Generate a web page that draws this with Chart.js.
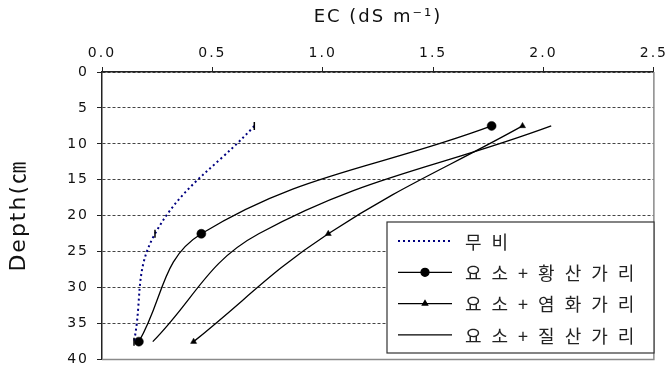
<!DOCTYPE html>
<html>
<head>
<meta charset="utf-8">
<script src="https://cdn.jsdelivr.net/npm/chart.js@4"></script>
<style>
  html, body { margin: 0; padding: 0; background: #fff; }
  #wrap { width: 670px; height: 376px; }
</style>
</head>
<body>
<div id="wrap"><canvas id="ec-chart"></canvas></div>
<script>
// ── Data ────────────────────────────────────────────────────────────
const depths = [7.5, 22.5, 37.5];
const xTicks = [0.0, 0.5, 1.0, 1.5, 2.0, 2.5];
const yTicks = [0, 5, 10, 15, 20, 25, 30, 35, 40];

const labels = ['무비', '요소+황산가리', '요소+염화가리', '요소+질산가리'];
const controlEC  = [0.69, 0.24, 0.145];
const sulfateEC  = [1.765, 0.45, 0.167];
const chlorideEC = [1.905, 1.025, 0.415];
const nitrateEC  = [2.035, 0.71, 0.23];

const toPoints = vals => depths.map((d, i) => ({ x: vals[i], y: d }));

// legend drawn inside the plot, like the original
const insideLegend = {
    id: 'insideLegend',
    beforeDraw(chart) {
        chart.ctx.letterSpacing = '2px';
    },
    afterDraw(chart, args, opts) {
        const { ctx, chartArea } = chart;
        ctx.save();
        // right / bottom frame of the plot
        ctx.strokeStyle = '#8a8a8a';
        ctx.lineWidth = 1.5;
        ctx.beginPath();
        ctx.moveTo(chartArea.right, chartArea.top);
        ctx.lineTo(chartArea.right, chartArea.bottom);
        ctx.lineTo(chartArea.left, chartArea.bottom);
        ctx.stroke();

        ctx.fillStyle = '#fff';
        ctx.fillRect(opts.x, opts.y, opts.w, opts.h);
        ctx.strokeStyle = '#333';
        ctx.lineWidth = 1.2;
        ctx.strokeRect(opts.x, opts.y, opts.w, opts.h);

        ctx.font = "18px 'Noto Sans CJK KR', sans-serif";
        ctx.letterSpacing = '10px';
        ctx.textBaseline = 'middle';
        ctx.textAlign = 'left';
        chart.data.datasets.forEach((ds, i) => {
            const y = opts.y + opts.first + i * opts.gap;
            const x1 = opts.x + 11, x2 = opts.x + 65;
            ctx.strokeStyle = ds.borderColor;
            ctx.lineWidth = ds.borderWidth;
            ctx.setLineDash(ds.borderDash || []);
            ctx.beginPath();
            ctx.moveTo(x1, y);
            ctx.lineTo(x2, y);
            ctx.stroke();
            ctx.setLineDash([]);
            if (ds.legendRadius) {
                ctx.fillStyle = '#000';
                ctx.strokeStyle = '#000';
                Chart.helpers.drawPoint(ctx, {
                    pointStyle: ds.pointStyle, radius: ds.legendRadius, borderWidth: 0.5, rotation: 0
                }, (x1 + x2) / 2, y);
            }
            ctx.fillStyle = '#222';
            ctx.fillText(ds.label, opts.x + 78, y + 1);
        });
        ctx.restore();
    }
};

Chart.defaults.font.family = "'DejaVu Sans', 'Noto Sans CJK KR', sans-serif";
Chart.defaults.color = '#111';

new Chart(document.getElementById('ec-chart'), {
    type: 'scatter',
    data: {
        datasets: [
            {
                label: labels[0],
                data: toPoints(controlEC),
                showLine: true,
                borderColor: '#000080',
                borderWidth: 2,
                borderDash: [2, 3],
                tension: 0.4,
                pointStyle: 'line',
                rotation: 90,
                pointRadius: 4,
                pointBorderColor: '#000',
                pointBorderWidth: 1.5,
                legendRadius: 0,
            },
            {
                label: labels[1],
                data: toPoints(sulfateEC),
                showLine: true,
                borderColor: '#000',
                borderWidth: 1.3,
                tension: 0.4,
                pointStyle: 'circle',
                pointRadius: 4.5,
                pointBorderWidth: 0.5,
                pointBackgroundColor: '#000',
                pointBorderColor: '#000',
                legendRadius: 4,
            },
            {
                label: labels[2],
                data: toPoints(chlorideEC),
                showLine: true,
                borderColor: '#000',
                borderWidth: 1.3,
                tension: 0.4,
                pointStyle: 'triangle',
                pointRadius: 3.5,
                pointBorderWidth: 0.5,
                pointBackgroundColor: '#000',
                pointBorderColor: '#000',
                legendRadius: 3,
            },
            {
                label: labels[3],
                data: toPoints(nitrateEC),
                showLine: true,
                borderColor: '#000',
                borderWidth: 1.3,
                tension: 0.4,
                pointRadius: 0,
                legendRadius: 0,
            }
        ]
    },
    options: {
        responsive: true,
        maintainAspectRatio: false,
        animation: false,
        layout: { padding: { left: 0, top: 0, right: 14, bottom: 7 } },
        plugins: {
            legend: { display: false },
            tooltip: { enabled: false },
            insideLegend: { x: 387, y: 222, w: 267, h: 131, first: 19, gap: 31.3 }
        },
        scales: {
            x: {
                type: 'linear',
                position: 'top',
                min: xTicks[0],
                max: xTicks[xTicks.length - 1],
                afterBuildTicks: s => { s.ticks = xTicks.map(v => ({ value: v })); },
                afterFit: s => { s.height = 72; },
                ticks: {
                    padding: 5,
                    font: { size: 14 },
                    callback: v => v.toFixed(1)
                },
                grid: { drawOnChartArea: false, drawTicks: true, tickLength: 5, tickColor: '#222' },
                border: { display: true, color: '#222', width: 1.5 },
                title: {
                    display: true,
                    text: 'EC (dS m⁻¹)',
                    font: { size: 18 },
                    padding: { top: 7, bottom: 0 }
                }
            },
            y: {
                type: 'linear',
                reverse: true,
                min: yTicks[0],
                max: yTicks[yTicks.length - 1],
                afterBuildTicks: s => { s.ticks = yTicks.map(v => ({ value: v })); },
                afterFit: s => { s.width = 102; },
                ticks: { padding: 8, font: { size: 14 } },
                grid: {
                    color: '#444',
                    lineWidth: 1,
                    drawTicks: true,
                    tickLength: 5,
                    tickColor: '#222',
                    tickBorderDash: [1, 0]
                },
                border: { display: true, color: '#222', width: 1.5, dash: [3, 2] },
                title: {
                    display: true,
                    text: 'Depth(㎝',
                    font: { size: 22 },
                    padding: { top: 6, bottom: 0 }
                }
            }
        }
    },
    plugins: [insideLegend]
});
</script>
</body>
</html>
